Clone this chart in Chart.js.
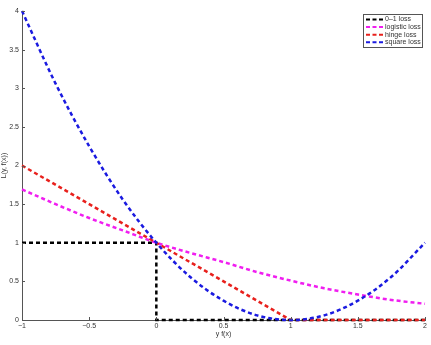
<!DOCTYPE html>
<html>
<head>
<meta charset="utf-8">
<script src="https://cdn.jsdelivr.net/npm/chart.js@4"></script>
<style>
  html, body { margin: 0; padding: 0; background: #fff; }
  #wrap { width: 431px; height: 345px; }
</style>
</head>
<body>
<div id="wrap"><canvas id="loss"></canvas></div>
<script>
// values
const xs = [-1, -0.75, -0.5, -0.25, 0, 0.25, 0.5, 0.75, 1, 1.25, 1.5, 1.75, 2];
const logisticLoss = [1.69, 1.50, 1.32, 1.16, 1.0, 0.87, 0.75, 0.62, 0.51, 0.41, 0.33, 0.26, 0.21];
const squareLoss = [4, 3.06, 2.25, 1.56, 1, 0.56, 0.25, 0.06, 0, 0.06, 0.25, 0.56, 1];
const hingeX = [-1, 1, 2];
const hingeLoss = [2, 0, 0];
const zeroOneX = [-1, 0, 0, 2];
const zeroOneLoss = [1, 1, 0, 0];

const xTicks = [-1, -0.5, 0, 0.5, 1, 1.5, 2];
const xTickLabels = ['\u22121', '\u22120.5', '0', '0.5', '1', '1.5', '2'];
const yTicks = [0, 0.5, 1, 1.5, 2, 2.5, 3, 3.5, 4];
const yTickLabels = ['0', '0.5', '1', '1.5', '2', '2.5', '3', '3.5', '4'];

const seriesNames = ['0\u20131 loss', 'logistic loss', 'hinge loss', 'square loss'];
const seriesColors = ['#000000', '#f01ef0', '#e8201c', '#1a1ae0'];

const pts = (x, y) => x.map((v, i) => ({ x: v, y: y[i] }));

const axisColor = '#555';
const textColor = '#333';
const dash = [4, 3];

// small inward tick marks like the original plot
const innerTicks = {
  id: 'innerTicks',
  afterDraw(chart) {
    const ctx = chart.ctx;
    const xs_ = chart.scales.x, ys_ = chart.scales.y;
    const a = chart.chartArea;
    ctx.save();
    ctx.strokeStyle = axisColor;
    ctx.lineWidth = 1;
    ctx.beginPath();
    xTicks.forEach(v => {
      let px = Math.round(xs_.getPixelForValue(v)) + 0.5;
      ctx.moveTo(px, a.bottom);
      ctx.lineTo(px, a.bottom - 3);
    });
    yTicks.forEach(v => {
      let py = Math.round(ys_.getPixelForValue(v)) + 0.5;
      ctx.moveTo(a.left, py);
      ctx.lineTo(a.left + 3, py);
    });
    ctx.stroke();
    ctx.restore();
  }
};

// boxed legend in the top right corner
const boxLegend = {
  id: 'boxLegend',
  afterDraw(chart) {
    const ctx = chart.ctx;
    const a = chart.chartArea;
    const w = 59, h = 33;
    const left = a.right - w - 3, top = a.top + 3;
    ctx.save();
    ctx.fillStyle = '#fff';
    ctx.fillRect(left, top, w, h);
    ctx.strokeStyle = axisColor;
    ctx.lineWidth = 1;
    ctx.strokeRect(left + 0.5, top + 0.5, w, h);
    ctx.font = '7px "Liberation Sans", Arial, sans-serif';
    ctx.textBaseline = 'middle';
    seriesNames.forEach((name, i) => {
      let y = top + 5.5 + i * 7.6;
      ctx.strokeStyle = seriesColors[i];
      ctx.lineWidth = 2;
      ctx.setLineDash([4, 2.5]);
      ctx.beginPath();
      ctx.moveTo(left + 3, y);
      ctx.lineTo(left + 20, y);
      ctx.stroke();
      ctx.setLineDash([]);
      ctx.fillStyle = textColor;
      ctx.fillText(name, left + 22, y);
    });
    ctx.restore();
  }
};

const lineSet = (label, data, color, extra) => Object.assign({
  label: label,
  data: data,
  borderColor: color,
  backgroundColor: color,
  borderWidth: 2.5,
  borderDash: dash,
  pointRadius: 0,
  fill: false,
  clip: 4
}, extra || {});

let graf = new Chart(document.getElementById('loss'), {
  type: 'line',
  data: {
    datasets: [
      lineSet(seriesNames[3], pts(xs, squareLoss), seriesColors[3], { cubicInterpolationMode: 'monotone' }),
      lineSet(seriesNames[2], pts(hingeX, hingeLoss), seriesColors[2]),
      lineSet(seriesNames[1], pts(xs, logisticLoss), seriesColors[1], { cubicInterpolationMode: 'monotone' }),
      lineSet(seriesNames[0], pts(zeroOneX, zeroOneLoss), seriesColors[0])
    ]
  },
  options: {
    animation: false,
    responsive: true,
    maintainAspectRatio: false,
    layout: { padding: { top: 11, right: 6, left: 0, bottom: 7 } },
    plugins: {
      legend: { display: false },
      tooltip: { enabled: false }
    },
    scales: {
      x: {
        type: 'linear',
        min: -1,
        max: 2,
        afterBuildTicks: s => { s.ticks = xTicks.map(v => ({ value: v })); },
        afterFit: s => { s.height = 18; },
        grid: { display: false, drawTicks: false },
        border: { display: true, color: axisColor, width: 1 },
        ticks: {
          color: textColor,
          padding: 2,
          maxRotation: 0,
          font: { family: '"Liberation Sans", Arial, sans-serif', size: 7 },
          callback: v => xTickLabels[xTicks.indexOf(v)]
        },
        title: {
          display: true,
          text: 'y f(x)',
          color: textColor,
          padding: { top: 0, bottom: 0 },
          font: { family: '"Liberation Sans", Arial, sans-serif', size: 7 }
        }
      },
      y: {
        type: 'linear',
        min: 0,
        max: 4,
        afterBuildTicks: s => { s.ticks = yTicks.map(v => ({ value: v })); },
        afterFit: s => { s.width = 22; },
        grid: { display: false, drawTicks: false },
        border: { display: true, color: axisColor, width: 1 },
        ticks: {
          color: textColor,
          padding: 3,
          font: { family: '"Liberation Sans", Arial, sans-serif', size: 7 },
          callback: v => yTickLabels[yTicks.indexOf(v)]
        },
        title: {
          display: true,
          text: 'L(y, f(x))',
          color: textColor,
          padding: { top: 0, bottom: 0 },
          font: { family: '"Liberation Sans", Arial, sans-serif', size: 7 }
        }
      }
    }
  },
  plugins: [innerTicks, boxLegend]
});
</script>
</body>
</html>
